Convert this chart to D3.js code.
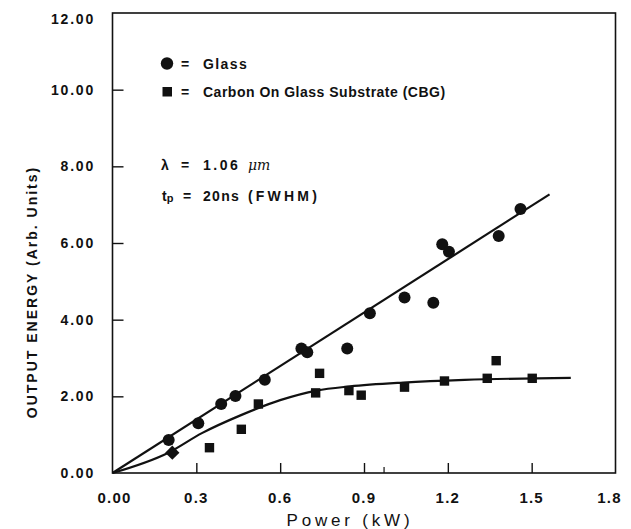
<!DOCTYPE html>
<html><head><meta charset="utf-8">
<script src="https://cdn.jsdelivr.net/npm/d3@7"></script>
<style>body{margin:0;background:#fff}svg{display:block}</style>
</head><body><svg id="c" width="631" height="529"></svg>
<script>
// ---- data ----
const glassX = [0.201,0.307,0.389,0.440,0.545,0.676,0.697,0.840,0.921,1.045,1.148,1.180,1.204,1.382,1.460];
const glassY = [0.86,1.30,1.80,2.01,2.43,3.25,3.15,3.25,4.17,4.58,4.44,5.97,5.77,6.18,6.89];
const cbgX = [0.347,0.461,0.522,0.727,0.741,0.846,0.890,1.045,1.188,1.341,1.373,1.502];
const cbgY = [0.66,1.14,1.80,2.09,2.60,2.15,2.03,2.24,2.40,2.47,2.93,2.47];
const cbgDiamondX = [0.214];
const cbgDiamondY = [0.53];
const glassFitX = [0, 1.564];
const glassFitY = [0, 7.27];
const cbgFitX = [0,0.2,0.32,0.46,0.6,0.73,0.85,1.04,1.26,1.64];
const cbgFitY = [0,0.53,1.04,1.51,1.90,2.15,2.26,2.36,2.43,2.48];
const xTicks = [0,0.3,0.6,0.9,1.2,1.5,1.8];
const xTickLabels = ["0.00","0.3","0.6","0.9","1.2","1.5","1.8"];
const xMinorTicks = [0.97];
const yTicks = [0,2,4,6,8,10,12];
const yTickLabels = ["0.00","2.00","4.00","6.00","8.00","10.00","12.00"];
const xTitle = "Power (kW)";
const yTitle = "OUTPUT ENERGY (Arb. Units)";

// ---- chart ----
const svg = d3.select("#c");
svg.append("rect").attr("width",631).attr("height",529).attr("fill","#fff");
const x = d3.scaleLinear().domain([0,1.8]).range([112.5,615.5]);
const y = d3.scaleLinear().domain([0,12]).range([473,13]);
const FONT = "'Liberation Sans', Arial, Helvetica, sans-serif";

// box
svg.append("rect").attr("x",x(0)).attr("y",y(12)).attr("width",x(1.8)-x(0)).attr("height",y(0)-y(12))
  .attr("fill","none").attr("stroke","#111").attr("stroke-width",1.6);

// ticks via d3 axes
const xAxis = d3.axisBottom(x).tickValues(xTicks.slice(1,-1)).tickSize(-10).tickFormat("");
svg.append("g").attr("transform",`translate(0,${y(0)})`).call(xAxis)
  .call(g=>g.select(".domain").remove())
  .call(g=>g.selectAll("line").attr("stroke","#111").attr("stroke-width",1.4));
const xAxisMinor = d3.axisBottom(x).tickValues(xMinorTicks).tickSize(-6).tickFormat("");
svg.append("g").attr("transform",`translate(0,${y(0)})`).call(xAxisMinor)
  .call(g=>g.select(".domain").remove())
  .call(g=>g.selectAll("line").attr("stroke","#111").attr("stroke-width",1.2));
const yAxis = d3.axisLeft(y).tickValues(yTicks.slice(1,-1)).tickSize(-11).tickFormat("");
svg.append("g").attr("transform",`translate(${x(0)},0)`).call(yAxis)
  .call(g=>g.select(".domain").remove())
  .call(g=>g.selectAll("line").attr("stroke","#111").attr("stroke-width",1.4));

// tick labels
svg.selectAll(".xl").data(xTicks).join("text").attr("class","xl")
  .attr("x",(d,i)=>x(d)+(i===0?2:(i===xTicks.length-1?-6:0)))
  .attr("y",503)
  .attr("text-anchor","middle")
  .attr("font-family",FONT).attr("font-weight","bold").attr("font-size",15).attr("letter-spacing",1.2)
  .attr("fill","#111").text((d,i)=>xTickLabels[i]);
svg.selectAll(".yl").data(yTicks).join("text").attr("class","yl")
  .attr("x",95)
  .attr("y",d=>Math.max(y(d),y(12)+5.5))
  .attr("dy","0.36em")
  .attr("text-anchor","end")
  .attr("font-family",FONT).attr("font-weight","bold").attr("font-size",14).attr("letter-spacing",1.8)
  .attr("fill","#111").text((d,i)=>yTickLabels[i]);

// axis titles
svg.append("text").attr("x",350).attr("y",526).attr("text-anchor","middle")
  .attr("font-family",FONT).attr("font-size",17).attr("letter-spacing",3.8).attr("fill","#111").text(xTitle);
svg.append("text").attr("transform","translate(37,292) rotate(-90)").attr("text-anchor","middle")
  .attr("font-family",FONT).attr("font-weight","bold").attr("font-size",14).attr("letter-spacing",2)
  .attr("fill","#111").text(yTitle);

// fit lines
const line = d3.line().x(d=>x(d[0])).y(d=>y(d[1]));
svg.append("path").datum(glassFitX.map((v,i)=>[v,glassFitY[i]])).attr("d",line)
  .attr("fill","none").attr("stroke","#111").attr("stroke-width",2.2);
svg.append("path").datum(cbgFitX.map((v,i)=>[v,cbgFitY[i]])).attr("d",line.curve(d3.curveMonotoneX))
  .attr("fill","none").attr("stroke","#111").attr("stroke-width",2.2);

// markers
svg.selectAll(".g").data(glassX.map((v,i)=>[v,glassY[i]])).join("circle").attr("class","g")
  .attr("cx",d=>x(d[0])).attr("cy",d=>y(d[1])).attr("r",6).attr("fill","#111");
svg.selectAll(".s").data(cbgX.map((v,i)=>[v,cbgY[i]])).join("rect").attr("class","s")
  .attr("x",d=>x(d[0])-4.7).attr("y",d=>y(d[1])-4.7).attr("width",9.4).attr("height",9.4).attr("fill","#111");
svg.selectAll(".dm").data(cbgDiamondX.map((v,i)=>[v,cbgDiamondY[i]])).join("path").attr("class","dm")
  .attr("d",d3.symbol(d3.symbolDiamond2,130)())
  .attr("transform",d=>`translate(${x(d[0])},${y(d[1])})`).attr("fill","#111");

// legend / annotations
const T = (xx,yy,txt,ls)=>svg.append("text").attr("x",xx).attr("y",yy).attr("font-family",FONT)
  .attr("font-weight","bold").attr("font-size",14).attr("letter-spacing",ls).attr("fill","#111").text(txt);
svg.append("circle").attr("cx",167).attr("cy",63.5).attr("r",6.2).attr("fill","#111");
T(181,68.5,"=",0); T(203,69,"Glass",1.4);
svg.append("rect").attr("x",162.5).attr("y",87).attr("width",9.5).attr("height",9.5).attr("fill","#111");
T(181,97,"=",0); T(203,97,"Carbon On Glass Substrate (CBG)",0.5);
T(161,170,"\u03bb",0); T(181,170,"=",0); T(203,170,"1.06",2.5);
svg.append("text").attr("x",248).attr("y",170).attr("font-family","'DejaVu Serif', serif").attr("font-style","italic")
  .attr("font-size",14).attr("fill","#111").text("\u03bcm");
const tp = svg.append("text").attr("x",162).attr("y",201).attr("font-family",FONT).attr("font-weight","bold")
  .attr("font-size",14).attr("fill","#111");
tp.append("tspan").text("t");
tp.append("tspan").attr("font-size",11).attr("dy",1).text("p");
T(183,201,"=",0); T(203,201,"20ns",1.3); T(248,201,"(FWHM)",3.2);
</script></body></html>
